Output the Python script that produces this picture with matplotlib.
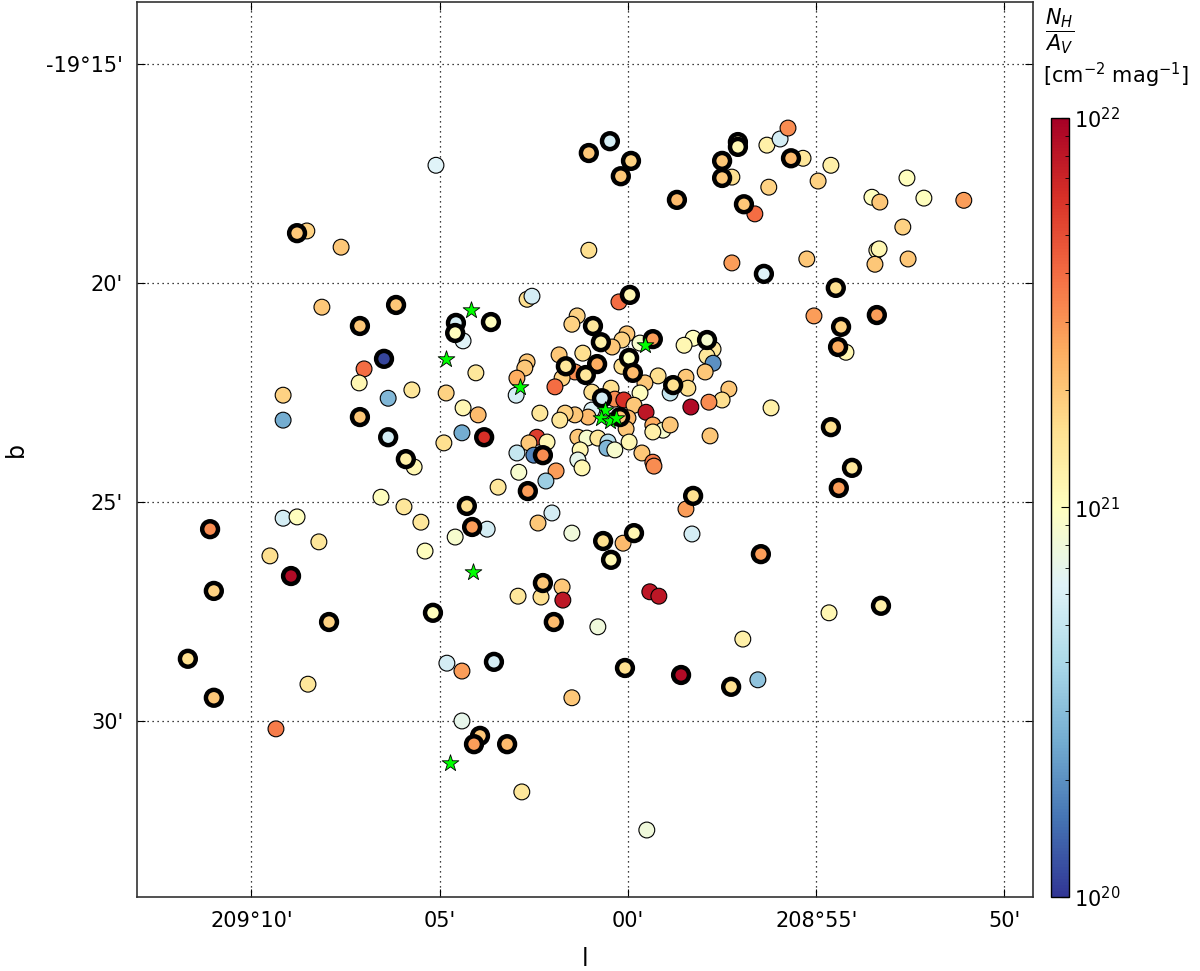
import matplotlib
matplotlib.use("Agg")
import matplotlib.pyplot as plt
import numpy as np
from matplotlib.colors import LogNorm
from matplotlib.ticker import FixedLocator, FixedFormatter

# reference position of the offsets below
L0 = 209.0
B0 = -19.0

# plain sources: dl = arcmin east of l=209d, db = arcmin south of b=-19d
plain_dl = [5.10, 1.04, -3.69, -4.04, -4.25, -4.65, -5.39, -5.05, -3.74, -3.37,
            -2.76, -7.41, -6.48, -6.69, -7.86, -8.92, -7.30, -6.61, -6.56, -7.44,
            -4.75, -2.76, 0.24, -4.94, -5.79, -1.73, -1.49, -2.26, -2.10, -2.26,
            -2.05, -1.12, -1.54, -1.59, -2.68, -2.50, -2.15, -1.67, -3.80, 1.35,
            1.49, 0.03, 0.16, 0.42, -0.32, 0.16, -0.80, -0.45, -0.32, 1.20,
            1.83, 1.41, 1.75, 1.94, 2.68, 2.74, 2.95, 2.97, 0.45, 0.96,
            0.35, 0.11, -0.16, -0.48, -0.66, -0.93, -1.12, -0.66, 0.00, 0.05,
            -0.03, 0.96, 1.06, 1.41, 1.67, 1.81, 2.34, 1.33, 1.09, 0.80,
            0.53, 0.56, 0.35, 1.27, 1.33, 1.22, -0.37, -0.66, -0.69, 2.42,
            2.63, 2.15, 2.95, 2.50, 1.91, 2.18, 2.90, 3.45, -2.18, 2.68,
            2.55, 4.38, 4.04, 4.38, 3.98, 4.41, 4.89, 4.83, 8.13, 8.53,
            7.62, 7.01, 7.14, 9.16, 9.16, 6.37, 5.74, 5.68, 6.56, 5.95,
            5.50, 5.39, 8.21, 9.16, 8.79, 9.51, 8.50, 9.35, 4.81, 4.41,
            4.41, 2.82, 3.74, 4.59, 2.02, 2.39, 1.49, 0.13, -1.54, -1.70,
            1.75, 2.92, 2.31, 1.73, -0.58, -0.82, 0.80, 1.49, -0.50, -5.34,
            -3.05, -3.45, -6.67]
plain_db = [17.31, 19.25, 16.85, 16.71, 16.46, 17.15, 17.31, 17.67, 17.81, 18.42,
            17.58, 17.60, 18.04, 18.15, 18.06, 18.11, 18.72, 19.25, 19.57, 19.45,
            19.45, 19.54, 20.43, 20.75, 21.58, 21.26, 21.42, 21.51, 21.67, 21.83,
            22.03, 22.51, 22.15, 22.40, 22.42, 22.67, 22.72, 22.83, 22.85, 20.75,
            20.94, 21.16, 21.30, 21.46, 21.37, 21.90, 22.12, 22.28, 22.51, 21.60,
            21.64, 22.03, 22.17, 22.37, 21.80, 21.94, 22.17, 22.56, 22.40, 22.49,
            22.65, 22.67, 22.79, 22.95, 23.24, 23.36, 23.24, 23.40, 23.08, 23.33,
            23.63, 22.90, 23.06, 23.01, 22.97, 23.13, 22.97, 23.52, 23.54, 23.54,
            23.63, 23.77, 23.81, 23.81, 24.04, 24.22, 23.88, 24.09, 24.18, 23.52,
            23.65, 23.63, 23.88, 23.93, 24.29, 24.52, 24.32, 24.66, 23.49, 20.37,
            20.30, 21.32, 22.05, 22.85, 23.01, 23.42, 23.65, 22.51, 20.55, 18.81,
            19.18, 21.96, 22.28, 22.56, 23.13, 22.63, 22.44, 24.20, 24.89, 25.11,
            25.46, 26.12, 25.91, 25.37, 25.34, 26.23, 29.16, 30.18, 28.68, 28.86,
            30.00, 31.62, 25.62, 25.80, 25.25, 25.48, 25.71, 25.94, 25.16, 25.73,
            26.94, 27.15, 27.17, 27.24, 27.05, 27.15, 27.85, 29.47, 32.49, 27.53,
            28.13, 29.06, 19.22]
plain_lognh = [20.80, 21.20, 21.10, 20.75, 21.50, 21.15, 21.10, 21.25, 21.25, 21.60,
               21.20, 21.00, 21.00, 21.30, 21.00, 21.45, 21.25, 21.05, 21.30, 21.30,
               21.30, 21.45, 21.60, 21.45, 21.05, 21.00, 21.05, 21.15, 21.15, 20.30,
               21.30, 20.70, 21.30, 21.20, 21.30, 21.20, 21.50, 21.95, 21.10, 21.25,
               21.25, 21.30, 21.25, 21.30, 20.95, 21.20, 21.20, 21.30, 21.00, 21.20,
               21.30, 21.50, 21.25, 21.60, 21.30, 21.30, 21.40, 20.75, 21.20, 21.20,
               21.50, 21.80, 21.30, 21.90, 21.40, 20.95, 21.30, 21.10, 21.35, 21.30,
               21.05, 20.80, 21.35, 21.30, 21.25, 21.15, 21.15, 21.30, 20.95, 21.15,
               20.65, 20.45, 20.95, 21.05, 20.85, 21.05, 21.30, 21.55, 21.50, 21.75,
               21.30, 21.05, 20.70, 20.25, 21.45, 20.55, 20.95, 21.15, 21.30, 21.20,
               20.75, 20.80, 21.15, 21.05, 21.35, 20.40, 21.20, 21.25, 21.30, 21.25,
               21.30, 21.60, 21.05, 21.25, 20.40, 20.45, 21.15, 21.05, 21.00, 21.15,
               21.15, 21.00, 21.15, 20.75, 21.00, 21.20, 21.15, 21.55, 20.75, 21.45,
               20.85, 21.15, 20.75, 20.95, 20.75, 21.30, 20.90, 21.35, 21.45, 20.75,
               21.30, 21.15, 21.20, 21.90, 21.90, 21.90, 20.90, 21.30, 20.90, 21.05,
               21.10, 20.50, 21.05]

# sources drawn with a heavy black ring
ring_dl = [1.04, 0.48, -0.08, 0.19, -1.30, -2.92, -2.92, -2.50, -2.50, -4.33,
           -3.08, -3.61, -5.52, -0.05, -6.61, -5.66, -5.58, -2.10, -1.20, -5.39,
           -5.95, -5.60, -1.73, -3.53, -6.72, -1.41, -2.74, -0.66, -0.03, -0.13,
           0.93, 0.72, 1.65, 0.82, 1.12, 0.69, 0.21, 2.26, 2.66, 3.64,
           4.57, 4.59, 3.82, 6.48, 6.16, 7.12, 8.79, 7.12, 6.37, 5.90,
           4.28, 4.14, 5.18, 3.56, 3.93, 4.09, 3.21, 11.10, 8.95, 11.00,
           7.94, 11.69, 11.00, 0.66, -0.16, 0.45, 2.26, 1.97, 0.08]
ring_db = [17.03, 16.76, 17.21, 17.56, 18.10, 16.78, 16.89, 17.21, 17.60, 17.15,
           18.20, 19.79, 20.11, 20.27, 20.73, 21.00, 21.46, 21.30, 22.33, 23.29,
           24.22, 24.68, 24.86, 26.19, 27.37, 28.95, 29.22, 21.28, 21.71, 22.05,
           20.98, 21.35, 21.90, 21.85, 22.10, 22.63, 23.06, 23.93, 24.75, 20.89,
           20.91, 21.14, 23.52, 21.73, 20.50, 20.98, 18.86, 23.06, 23.52, 24.02,
           25.09, 25.57, 27.53, 28.65, 30.34, 30.53, 30.53, 25.62, 26.69, 27.03,
           27.74, 28.58, 29.47, 25.89, 25.71, 26.32, 26.85, 27.74, 28.79]
ring_lognh = [21.30, 20.75, 21.25, 21.30, 21.35, 21.05, 21.05, 21.30, 21.30, 21.35,
              21.30, 20.80, 21.20, 21.05, 21.45, 21.25, 21.40, 20.95, 21.20, 21.20,
              21.15, 21.45, 21.20, 21.45, 21.10, 21.95, 21.20, 21.45, 21.00, 21.35,
              21.15, 21.10, 21.15, 21.40, 21.15, 20.75, 21.30, 21.50, 21.45, 21.00,
              20.75, 21.00, 21.80, 20.05, 21.30, 21.30, 21.30, 21.30, 20.75, 21.10,
              21.20, 21.45, 21.00, 20.75, 21.30, 21.45, 21.35, 21.50, 21.95, 21.25,
              21.25, 21.20, 21.30, 21.20, 21.05, 21.05, 21.30, 21.35, 21.20]

# young stars
star_dl = [4.17, 4.83, 2.87, -0.45, 0.61, 0.72, 0.48, 0.32, 4.12, 4.73]
star_db = [20.62, 21.73, 22.37, 21.42, 22.90, 23.08, 23.15, 23.08, 26.60, 30.96]

x_ticks_dl = [10, 5, 0, -5, -10]
x_ticklabels = ["209\u00b010'", "05'", "00'", "208\u00b055'", "50'"]
y_ticks_db = [15, 20, 25, 30]
y_ticklabels = ["-19\u00b015'", "20'", "25'", "30'"]


def to_l(dl):
    return L0 + np.asarray(dl) / 60.0


def to_b(db):
    return B0 - np.asarray(db) / 60.0


fig = plt.figure(figsize=(12, 9.71), dpi=100)
ax = fig.add_axes([0.1142, 0.0762, 0.7467, 0.9218])
norm = LogNorm(vmin=1e20, vmax=1e22)
cmap = plt.get_cmap("RdYlBu_r")

sc = ax.scatter(to_l(plain_dl), to_b(plain_db), c=10 ** np.array(plain_lognh),
                cmap=cmap, norm=norm, s=130, edgecolors="k", linewidths=0.8, zorder=3)
ax.scatter(to_l(ring_dl), to_b(ring_db), c=10 ** np.array(ring_lognh),
           cmap=cmap, norm=norm, s=130, edgecolors="k", linewidths=3.2, zorder=4)
ax.scatter(to_l(star_dl), to_b(star_db), marker="*", s=160, c="#00ff00",
           edgecolors="k", linewidths=0.6, zorder=5)

ax.set_xlim(to_l(13.04), to_l(-10.76))
ax.set_ylim(to_b(34.02), to_b(13.58))
ax.xaxis.set_major_locator(FixedLocator(to_l(x_ticks_dl)))
ax.xaxis.set_major_formatter(FixedFormatter(x_ticklabels))
ax.yaxis.set_major_locator(FixedLocator(to_b(y_ticks_db)))
ax.yaxis.set_major_formatter(FixedFormatter(y_ticklabels))
ax.tick_params(direction="in", length=6, labelsize=15, top=True, right=True)
ax.tick_params(axis="x", pad=10)
ax.tick_params(axis="y", pad=10)
ax.grid(True, color="k", linestyle=(0, (1, 3)), linewidth=0.9)
ax.set_axisbelow(True)
for sp in ax.spines.values():
    sp.set_color("#333333")
    sp.set_linewidth(1.2)

ax.set_xlabel("l", fontsize=17)
ax.set_ylabel("b", fontsize=17)
ax.xaxis.set_label_coords(0.5, -0.056)
ax.yaxis.set_label_coords(-0.122, 0.5)

cax = fig.add_axes([0.8758, 0.0762, 0.015, 0.8023])
cb = fig.colorbar(sc, cax=cax)
cb.ax.tick_params(which="both", direction="in", labelsize=15)
cb.ax.tick_params(which="major", length=6)
cb.ax.tick_params(which="minor", length=3)
cb.outline.set_linewidth(1.0)

fig.text(0.8705, 0.968, r"$\dfrac{N_H}{A_V}$", fontsize=15, ha="left", va="center")
fig.text(0.8695, 0.922, r"[cm$^{-2}$ mag$^{-1}$]", fontsize=15, ha="left", va="center")

fig.savefig("out.png", dpi=100)
